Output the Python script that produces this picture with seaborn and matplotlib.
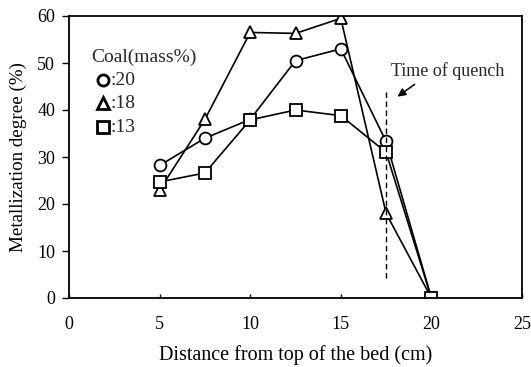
import matplotlib
matplotlib.use("Agg")
import matplotlib.pyplot as plt
import seaborn as sns
import pandas as pd

# Bed depth positions (cm)
distance = [5, 7.5, 10, 12.5, 15, 17.5, 20]

# Metallization degree (%) for each coal content
coal_20 = [28.2, 34.0, 38.0, 50.5, 53.0, 33.3, 0.0]
coal_18 = [23.0, 38.0, 56.5, 56.3, 59.5, 18.0, 0.0]
coal_13 = [24.7, 26.6, 37.9, 40.0, 38.8, 31.0, 0.0]

series_labels = [":20", ":18", ":13"]
series_markers = ["o", "^", "s"]

quench_x = 17.5
quench_span = [4.3, 43.8]

sns.set_theme(style="white")
plt.rcParams["font.family"] = ["Liberation Serif", "DejaVu Serif"]

fig = plt.figure(figsize=(5.31, 3.67), dpi=100)
ax = fig.add_axes([69 / 531, 1 - 298 / 367, 453 / 531, 282 / 367])

frames = []
for lab, vals in zip(series_labels, [coal_20, coal_18, coal_13]):
    frames.append(pd.DataFrame({"distance": distance, "metal": vals, "coal": lab}))
df = pd.concat(frames, ignore_index=True)

for lab, mk in zip(series_labels, series_markers):
    sub = df[df["coal"] == lab]
    sns.lineplot(data=sub, x="distance", y="metal", ax=ax, color="black",
                 marker=mk, markersize=9 if mk == "^" else 8.5,
                 markerfacecolor="white", markeredgecolor="black",
                 markeredgewidth=1.3, linewidth=1.2, legend=False)

# Quench position
ax.plot([quench_x, quench_x], quench_span, color="black", linestyle=(0, (4, 2.5)),
        linewidth=1.0)
ax.annotate("", xy=(18.0, 42.5), xytext=(19.2, 45.8),
            arrowprops=dict(arrowstyle="-|>", color="black", lw=1.1,
                            mutation_scale=12))
ax.text(17.75, 48.3, "Time of quench", fontsize=13, va="center", ha="left")

# Key: title line plus one row per coal content
ax.text(0.0486, 0.855, "Coal(mass%)", transform=ax.transAxes, fontsize=14,
        va="center", ha="left")
row_y = [0.773, 0.691, 0.606]
for y, lab, mk in zip(row_y, series_labels, series_markers):
    ax.plot([0.075], [y], transform=ax.transAxes, marker=mk, linestyle="none",
            color="black", markersize=8, markerfacecolor="white",
            markeredgewidth=2.0, clip_on=False)
    ax.text(0.091, y, lab, transform=ax.transAxes, fontsize=14,
            va="center", ha="left")

ax.set_xlim(0, 25)
ax.set_ylim(0, 60)
ax.set_xticks([0, 5, 10, 15, 20, 25])
ax.set_yticks([0, 10, 20, 30, 40, 50, 60])
ax.tick_params(axis="x", direction="in", length=3, width=1, pad=13,
               labelsize=13, colors="black", bottom=True)
ax.tick_params(axis="y", direction="out", length=5, width=1, pad=5,
               labelsize=13, colors="black", left=True)

for sp in ax.spines.values():
    sp.set_color("black")
    sp.set_linewidth(1.3)

ax.set_xlabel("Distance from top of the bed (cm)", fontsize=14.5, labelpad=9,
              color="black")
ax.set_ylabel("Metallization degree (%)", fontsize=13.7, labelpad=7,
              color="black")

fig.savefig("out.png", dpi=100, facecolor="white")
